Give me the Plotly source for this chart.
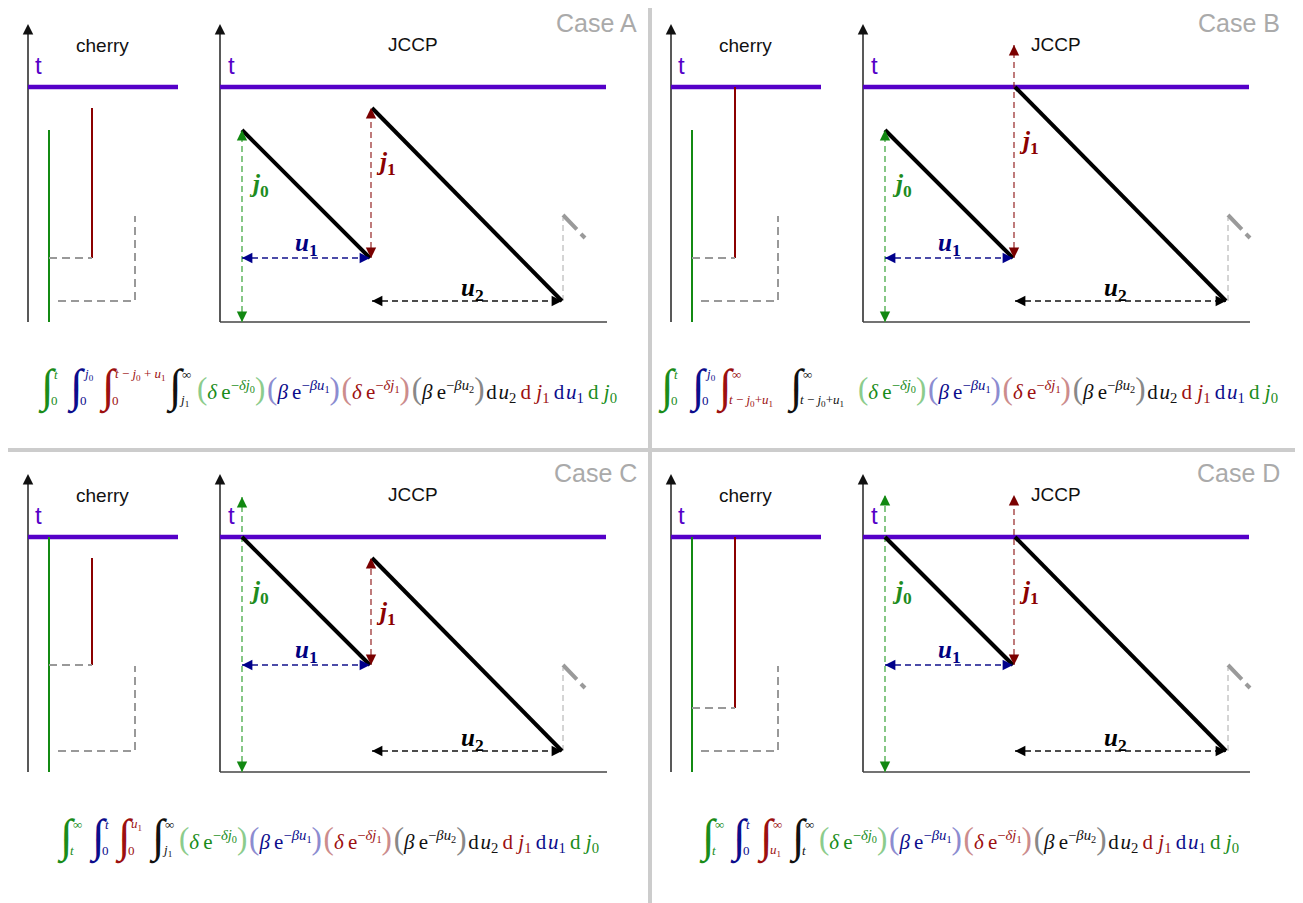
import plotly.graph_objects as go

W, H = 1303, 903          # reference frame size
PAGE_OFF = 8               # browser body margin
FW, FH = W - PAGE_OFF, H - PAGE_OFF

# ---------------- data (diagram units, 1 unit ~ 1 px) ----------------
CASE_NAMES = ["Case A", "Case B", "Case C", "Case D"]

T_LEVEL = 235            # level t
AXIS_TOP = 298           # top of vertical axes
JCCP_X_END = 387         # end of JCCP time axis
CHERRY_T_END = 150       # end of t line in cherry panel

# JCCP (contour) geometry per case
J0_X = 22
J0_START = [192, 192, 235, 235]       # where first black segment starts
J0_ARROW_TOP = [192, 192, 275, 277]   # tip of the j0 arrow
U1_END_X = [150, 150, 150, 150]
U1_Y = [64, 64, 107, 107]
J1_X = 151
J1_START = [214, 235, 214, 235]       # where second black segment starts
J1_ARROW_TOP = [214, 277, 214, 277]   # tip of the j1 arrow
L2_START_X = 152
U2_END_X = [342, 363, 342, 363]
U2_Y = 21
NEXT_X = [343, 365, 343, 365]
NEXT_TOP = 104
NEXT_SLASH = [107, 84]                # heights of the grey slash ends
NEXT_SLASH_DX = 22

# cherry (tree) geometry per case
CH_GREEN_X = 21
CH_GREEN_TOP = [192, 192, 235, 235]
CH_RED_X = 64
CH_RED_TOP = [214, 235, 214, 235]
CH_RED_BOTTOM = [64, 64, 107, 64]
CH_NEXT_X = 107
CH_NEXT_TOP = 106
CH_NEXT_LEFT = 30
CH_NEXT_Y = 21

# integral limits per case: (upper, lower, colour key)
LIMITS = [
    [("<i>t</i>", "0", "g"), ("<i>j</i><sub>0</sub>", "0", "b"),
     ("<i>t</i> − <i>j</i><sub>0</sub> + <i>u</i><sub>1</sub>", "0", "r"), ("∞", "<i>j</i><sub>1</sub>", "k")],
    [("<i>t</i>", "0", "g"), ("<i>j</i><sub>0</sub>", "0", "b"),
     ("∞", "<i>t</i> − <i>j</i><sub>0</sub>+<i>u</i><sub>1</sub>", "r"), ("∞", "<i>t</i> − <i>j</i><sub>0</sub>+<i>u</i><sub>1</sub>", "k")],
    [("∞", "<i>t</i>", "g"), ("<i>t</i>", "0", "b"),
     ("<i>u</i><sub>1</sub>", "0", "r"), ("∞", "<i>j</i><sub>1</sub>", "k")],
    [("∞", "<i>t</i>", "g"), ("<i>t</i>", "0", "b"),
     ("∞", "<i>u</i><sub>1</sub>", "r"), ("∞", "<i>t</i>", "k")],
]

# ---------------- layout constants ----------------
QX = [0, 643, 0, 643]
QY = [0, 0, 450, 450]
FORM_INT_X = [[38, 67, 99, 166], [658, 689, 716, 787], [57, 89, 115, 149], [699, 730, 757, 789]]
FORM_FAC_X = [196, 857, 178, 818]
FORM_Y = [388, 388, 838, 838]

PURPLE = "#5500c8"
COL = {"g": "#1a8c1a", "b": "#0c0c8c", "r": "#9c1010", "k": "#111111"}
LCOL = {"g": "#8ccc8c", "b": "#8c8cd0", "r": "#cc8c8c", "k": "#888888"}
SERIF = "Liberation Serif"
SANS = "Liberation Sans"

fig = go.Figure()
layout = dict(width=FW, height=FH, margin=dict(l=0, r=0, t=0, b=0),
              paper_bgcolor="white", plot_bgcolor="rgba(0,0,0,0)", showlegend=False)
annotations = []


def px(x):
    return (x - PAGE_OFF) / FW


def py(y):
    return 1 - (y - PAGE_OFF) / FH


def make_axes(n, ox, oy, origin, box):
    # box = (x0, y0, x1, y1) in local pixels; origin = local pixel of data (0,0)
    x0, y0, x1, y1 = box
    kx = "xaxis" if n == 1 else f"xaxis{n}"
    ky = "yaxis" if n == 1 else f"yaxis{n}"
    xa = "x" if n == 1 else f"x{n}"
    ya = "y" if n == 1 else f"y{n}"
    layout[kx] = dict(domain=[px(ox + x0), px(ox + x1)], range=[x0 - origin[0], x1 - origin[0]],
                      visible=False, fixedrange=True, anchor=ya)
    layout[ky] = dict(domain=[py(oy + y1), py(oy + y0)], range=[origin[1] - y1, origin[1] - y0],
                      visible=False, fixedrange=True, anchor=xa)
    return xa, ya


def line(ax, xs, ys, color, width, dash=None):
    xa, ya = ax
    fig.add_trace(go.Scatter(x=xs, y=ys, mode="lines", xaxis=xa, yaxis=ya, hoverinfo="skip",
                             line=dict(color=color, width=width, dash=dash)))


def head(ax, tip, tail, color, size=1.6, width=1.3):
    xa, ya = ax
    annotations.append(dict(x=tip[0], y=tip[1], ax=tail[0], ay=tail[1], xref=xa, yref=ya,
                            axref=xa, ayref=ya, text="", showarrow=True, arrowhead=2,
                            arrowsize=size, arrowwidth=width, arrowcolor=color,
                            standoff=0, startstandoff=0))


def label(ax, x, y, text, size, color, family):
    xa, ya = ax
    annotations.append(dict(x=x, y=y, xref=xa, yref=ya, text=text, showarrow=False,
                            font=dict(size=size, color=color, family=family),
                            xanchor="center", yanchor="middle"))


def ptext(x, y, text, size, color, family, xanchor="left"):
    annotations.append(dict(x=px(x), y=py(y), xref="paper", yref="paper", text=text,
                            showarrow=False, xanchor=xanchor, yanchor="middle", borderpad=0,
                            font=dict(size=size, color=color, family=family)))


DASH = "6px,4px"

for i in range(4):
    ox, oy = QX[i], QY[i]
    cax = make_axes(2 * i + 1, ox, oy, (28, 322), (8, 10, 205, 340))
    jax = make_axes(2 * i + 2, ox, oy, (220, 322), (205, 10, 647, 340))

    # ---- cherry panel ----
    line(cax, [0, 0], [0, AXIS_TOP - 6], "#222", 1.5)
    head(cax, (0, AXIS_TOP), (0, AXIS_TOP - 8), "#111", 1.4, 1.5)
    line(cax, [0, CHERRY_T_END], [T_LEVEL, T_LEVEL], PURPLE, 4.5)
    line(cax, [CH_GREEN_X, CH_GREEN_X], [0, CH_GREEN_TOP[i]], "#138a13", 2)
    line(cax, [CH_RED_X, CH_RED_X], [CH_RED_BOTTOM[i], CH_RED_TOP[i]], "#8b0000", 2)
    line(cax, [CH_GREEN_X, CH_RED_X], [CH_RED_BOTTOM[i], CH_RED_BOTTOM[i]], "#999999", 2, "8px,5px")
    line(cax, [CH_NEXT_LEFT, CH_NEXT_X, CH_NEXT_X], [CH_NEXT_Y, CH_NEXT_Y, CH_NEXT_TOP],
         "#999999", 2, "8px,5px")
    label(cax, 10, 257, "t", 24, PURPLE, SANS)
    label(cax, 74, 277, "cherry", 19, "#111", SANS)

    # ---- JCCP panel ----
    line(jax, [0, 0], [0, AXIS_TOP - 6], "#222", 1.5)
    head(jax, (0, AXIS_TOP), (0, AXIS_TOP - 8), "#111", 1.4, 1.5)
    line(jax, [0, JCCP_X_END], [0, 0], "#444", 1.5)
    line(jax, [0, JCCP_X_END - 1], [T_LEVEL, T_LEVEL], PURPLE, 4.5)

    # j0 arrow
    line(jax, [J0_X, J0_X], [0, J0_ARROW_TOP[i]], "#46aa46", 1.3, DASH)
    head(jax, (J0_X, 0), (J0_X, 9), "#118811")
    head(jax, (J0_X, J0_ARROW_TOP[i]), (J0_X, J0_ARROW_TOP[i] - 9), "#118811")
    # u1 arrow
    line(jax, [J0_X, U1_END_X[i]], [U1_Y[i], U1_Y[i]], "#10108c", 1.3, DASH)
    head(jax, (J0_X, U1_Y[i]), (J0_X + 9, U1_Y[i]), "#00008b")
    head(jax, (U1_END_X[i], U1_Y[i]), (U1_END_X[i] - 9, U1_Y[i]), "#00008b")
    # j1 arrow
    line(jax, [J1_X, J1_X], [U1_Y[i], J1_ARROW_TOP[i]], "#8b1010", 1.1, DASH)
    head(jax, (J1_X, U1_Y[i]), (J1_X, U1_Y[i] + 9), "#7a0000")
    head(jax, (J1_X, J1_ARROW_TOP[i]), (J1_X, J1_ARROW_TOP[i] - 9), "#7a0000")
    # u2 arrow
    line(jax, [L2_START_X, U2_END_X[i]], [U2_Y, U2_Y], "#111", 1.3, DASH)
    head(jax, (L2_START_X, U2_Y), (L2_START_X + 9, U2_Y), "#000")
    head(jax, (U2_END_X[i], U2_Y), (U2_END_X[i] - 9, U2_Y), "#000")
    # next jump hint
    line(jax, [NEXT_X[i], NEXT_X[i]], [U2_Y, NEXT_TOP], "#aaaaaa", 1, DASH)
    line(jax, [NEXT_X[i], NEXT_X[i] + NEXT_SLASH_DX], NEXT_SLASH, "#9a9a9a", 4, "20px,6px,6px")

    # contour (black) segments
    line(jax, [J0_X, U1_END_X[i]], [J0_START[i], U1_Y[i]], "#000", 4)
    line(jax, [L2_START_X, U2_END_X[i]], [J1_START[i], U2_Y], "#000", 4)

    # labels
    label(jax, 11, 257, "t", 24, PURPLE, SANS)
    label(jax, 193, 278, "JCCP", 19, "#111", SANS)
    label(jax, J0_X + 17, J0_START[i] - 55, "<b><i>j</i><sub>0</sub></b>", 25, "#1e8c1e", SERIF)
    label(jax, J1_X + 15, J1_START[i] - 55, "<b><i>j</i><sub>1</sub></b>", 25, "#8b0000", SERIF)
    label(jax, (J0_X + U1_END_X[i]) / 2, U1_Y[i] + 14, "<b><i>u</i><sub>1</sub></b>", 25, "#000080", SERIF)
    label(jax, L2_START_X + 100, U2_Y + 12, "<b><i>u</i><sub>2</sub></b>", 25, "#000", SERIF)

    # case title
    ptext(ox + 638, oy + 23, CASE_NAMES[i], 25, "#aaaaaa", SANS, xanchor="right")

    # ---- formula ----
    fy = FORM_Y[i]
    for k, (up, lo, ck) in enumerate(LIMITS[i]):
        xi = FORM_INT_X[i][k]
        ptext(xi - 1, fy - 1, "∫", 46, COL[ck], SERIF)
        ptext(xi + 15, fy - 14, up, 13, COL[ck], SERIF)
        ptext(xi + 12, fy + 12, lo, 13, COL[ck], SERIF)

    def par(ck, s):
        return f"<span style='color:{LCOL[ck]};font-size:31px'>{s}</span>"

    facs = [("g", "<i>δ</i>", "<i>δj</i><sub>0</sub>"), ("b", "<i>β</i>", "<i>βu</i><sub>1</sub>"),
            ("r", "<i>δ</i>", "<i>δj</i><sub>1</sub>"), ("k", "<i>β</i>", "<i>βu</i><sub>2</sub>")]
    txt = ""
    for ck, sym, ex in facs:
        txt += (par(ck, "(") + f"<span style='color:{COL[ck]}'>{sym}\u2009e<sup>−{ex}</sup></span>"
                + par(ck, ")") + "\u200a")
    txt += (f"<span style='color:{COL['k']}'>d\u200a<i>u</i><sub>2</sub></span>\u2009"
            f"<span style='color:{COL['r']}'>d <i>j</i><sub>1</sub></span>\u2009"
            f"<span style='color:{COL['b']}'>d\u200a<i>u</i><sub>1</sub></span>\u2009"
            f"<span style='color:{COL['g']}'>d <i>j</i><sub>0</sub></span>")
    ptext(FORM_FAC_X[i], fy, txt, 21, "#111", SERIF)

layout["annotations"] = annotations
layout["shapes"] = [
    dict(type="line", xref="paper", yref="paper", x0=px(650), x1=px(650), y0=0, y1=1,
         line=dict(color="#cccccc", width=4)),
    dict(type="line", xref="paper", yref="paper", x0=0, x1=1, y0=py(450), y1=py(450),
         line=dict(color="#cccccc", width=4)),
]
fig.update_layout(**layout)
fig.write_html("out.html")
